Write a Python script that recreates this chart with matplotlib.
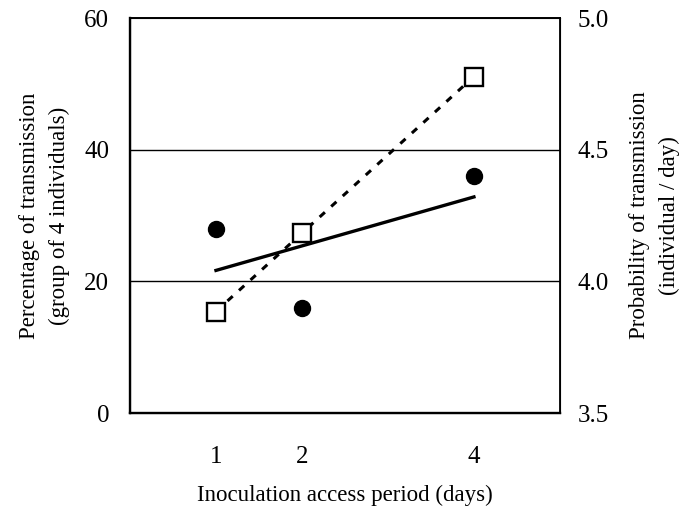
import numpy as np
import matplotlib.pyplot as plt
from matplotlib.ticker import FormatStrFormatter

plt.rcParams['font.family'] = ['Liberation Serif', 'DejaVu Serif']

# inoculation access period (days)
days = [1, 2, 4]
# percentage of transmission (group of 4 individuals), filled circles
pct_group = [28.0, 15.9, 36.0]
# open squares
pct_square = [15.4, 27.4, 51.1]

fig = plt.figure(figsize=(6.82, 5.17), dpi=100)
ax = fig.add_axes([0.1906, 0.201, 0.6304, 0.764])

# linear fits of each series
fit1 = np.polyfit(days, pct_group, 1)
fit2 = np.polyfit(days, pct_square, 1)
xs = np.array([1, 4])
ax.plot(xs, np.polyval(fit1, xs), color='black', lw=2.4, zorder=3)
ax.plot(xs, np.polyval(fit2, xs), color='black', lw=2.2, ls=(0, (2.3, 2.8)), zorder=3)

ax.plot(days, pct_group, 'o', color='black', ms=11.5, zorder=4)
ax.plot(days, pct_square, 's', mfc='white', mec='black', mew=1.7, ms=13.5, zorder=4)

ax.axhline(20, color='black', lw=1.0, zorder=1)
ax.axhline(40, color='black', lw=1.0, zorder=1)

ax.set_xlim(0, 5)
ax.set_ylim(0, 60)
ax.set_xticks(days)
ax.set_yticks([0, 20, 40, 60])
ax.tick_params(axis='both', length=0, labelsize=18)
ax.tick_params(axis='x', pad=24)
ax.tick_params(axis='y', pad=15)
ax.set_xlabel('Inoculation access period (days)', fontsize=16.5, labelpad=12)
ax.set_ylabel('Percentage of transmission\n(group of 4 individuals)', fontsize=16.5,
              labelpad=10, linespacing=1.55)
ax.spines['left'].set_linewidth(1.7)
ax.spines['bottom'].set_linewidth(1.7)
ax.spines['top'].set_linewidth(1.4)
ax.spines['right'].set_linewidth(1.3)

ax2 = ax.twinx()
ax2.set_ylim(3.5, 5.0)
ax2.set_yticks([3.5, 4.0, 4.5, 5.0])
ax2.yaxis.set_major_formatter(FormatStrFormatter('%.1f'))
ax2.tick_params(axis='y', length=0, labelsize=18, pad=13)
ax2.set_ylabel('Probability of transmission\n(individual / day)', fontsize=16.5,
               labelpad=14, linespacing=1.55)

plt.savefig('out.png', dpi=100)
